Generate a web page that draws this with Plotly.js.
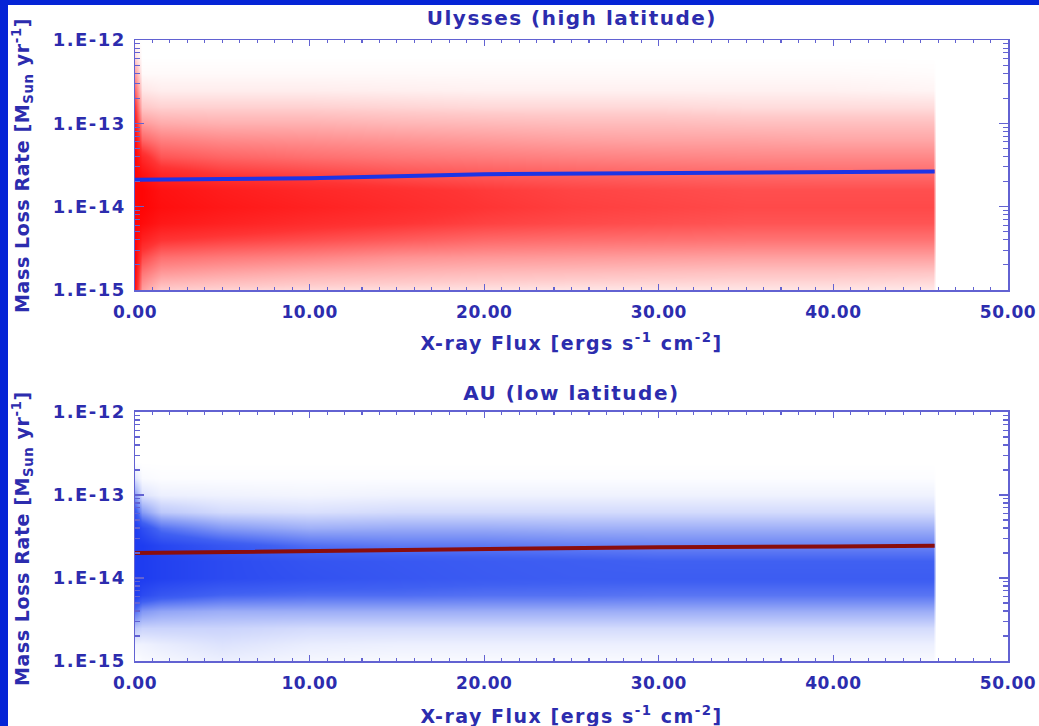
<!DOCTYPE html>
<html>
<head>
<meta charset="utf-8">
<script src="https://cdn.plot.ly/plotly-3.0.1.min.js"></script>
<style>
  html, body { margin: 0; padding: 0; width: 1039px; height: 726px; overflow: hidden; background: #0524d6; }
  #chart { position: absolute; left: 8px; top: 5px; width: 1031px; height: 721px; background: #ffffff; }
  #chart .annotation-text { letter-spacing: 1.5px; }
  #chart .annotation[data-index="4"] .annotation-text,
  #chart .annotation[data-index="5"] .annotation-text { letter-spacing: 0.6px; }
  #chart .ytick text, #chart .y2tick text { letter-spacing: 1.5px; }
  #chart .xtick text, #chart .x2tick text { letter-spacing: 0.5px; }
</style>
</head>
<body>
<div id="chart"></div>
<script>
// ---------- data ----------
// x-ray flux columns of the point-density grid
var fluxColumns = [0, 0.4, 1.5, 5, 10, 15, 20, 25, 30, 35, 40, 45.7, 45.85];
// log10(mass loss rate) rows of the point-density grid
var logRateRows = [-15.0, -14.8, -14.6, -14.4, -14.2, -14.0, -13.8, -13.6, -13.4, -13.2, -13.0, -12.8, -12.6, -12.4, -12.2, -12.0];

// Ulysses (high latitude) – relative point density (0 = empty, 1 = solid)
var ulyssesDensity = [
  [0.90, 0.30, 0.14, 0.12, 0.10, 0.09, 0.08, 0.07, 0.07, 0.07, 0.07, 0.06, 0],
  [0.95, 0.45, 0.32, 0.28, 0.24, 0.22, 0.20, 0.19, 0.18, 0.17, 0.17, 0.16, 0],
  [1.00, 0.62, 0.48, 0.44, 0.40, 0.35, 0.33, 0.32, 0.31, 0.30, 0.30, 0.30, 0],
  [1.00, 0.82, 0.70, 0.65, 0.60, 0.55, 0.50, 0.48, 0.47, 0.46, 0.46, 0.46, 0],
  [1.00, 0.96, 0.88, 0.82, 0.75, 0.70, 0.65, 0.62, 0.60, 0.58, 0.58, 0.58, 0],
  [1.00, 1.00, 0.94, 0.88, 0.82, 0.76, 0.70, 0.66, 0.64, 0.62, 0.62, 0.62, 0],
  [1.00, 1.00, 0.92, 0.85, 0.78, 0.73, 0.68, 0.64, 0.62, 0.60, 0.60, 0.60, 0],
  [1.00, 0.92, 0.78, 0.68, 0.63, 0.58, 0.55, 0.53, 0.51, 0.50, 0.49, 0.49, 0],
  [1.00, 0.78, 0.58, 0.52, 0.48, 0.45, 0.43, 0.41, 0.40, 0.39, 0.39, 0.39, 0],
  [0.95, 0.52, 0.42, 0.38, 0.36, 0.34, 0.32, 0.30, 0.29, 0.29, 0.28, 0.28, 0],
  [0.85, 0.32, 0.26, 0.24, 0.24, 0.22, 0.21, 0.20, 0.20, 0.19, 0.19, 0.19, 0],
  [0.70, 0.16, 0.13, 0.13, 0.13, 0.12, 0.11, 0.11, 0.11, 0.10, 0.10, 0.10, 0],
  [0.50, 0.07, 0.05, 0.05, 0.05, 0.045, 0.04, 0.04, 0.04, 0.04, 0.04, 0.03, 0],
  [0.30, 0.015, 0.015, 0.015, 0.015, 0.015, 0.015, 0.015, 0.015, 0.015, 0.015, 0.01, 0],
  [0.10, 0, 0, 0, 0, 0, 0, 0, 0, 0, 0, 0, 0],
  [0, 0, 0, 0, 0, 0, 0, 0, 0, 0, 0, 0, 0]
];

// AU (low latitude) – relative point density
var auDensity = [
  [0.00, 0.02, 0.03, 0.06, 0.03, 0.02, 0.02, 0.02, 0.02, 0.02, 0.02, 0.02, 0],
  [0.05, 0.05, 0.07, 0.11, 0.07, 0.06, 0.06, 0.06, 0.06, 0.06, 0.06, 0.06, 0],
  [0.22, 0.17, 0.17, 0.17, 0.14, 0.14, 0.14, 0.14, 0.14, 0.14, 0.14, 0.14, 0],
  [0.62, 0.44, 0.38, 0.34, 0.34, 0.34, 0.34, 0.34, 0.34, 0.34, 0.34, 0.34, 0],
  [1.00, 0.88, 0.78, 0.68, 0.64, 0.64, 0.62, 0.62, 0.60, 0.60, 0.60, 0.60, 0],
  [1.00, 1.00, 0.96, 0.88, 0.82, 0.78, 0.75, 0.73, 0.73, 0.73, 0.73, 0.73, 0],
  [1.00, 1.00, 0.96, 0.88, 0.80, 0.77, 0.74, 0.72, 0.70, 0.70, 0.70, 0.70, 0],
  [1.00, 1.00, 0.92, 0.78, 0.63, 0.58, 0.58, 0.55, 0.53, 0.53, 0.53, 0.53, 0],
  [1.00, 0.86, 0.62, 0.43, 0.33, 0.35, 0.35, 0.33, 0.33, 0.33, 0.33, 0.33, 0],
  [0.80, 0.42, 0.22, 0.14, 0.12, 0.14, 0.14, 0.14, 0.14, 0.14, 0.14, 0.14, 0],
  [0.40, 0.11, 0.06, 0.05, 0.04, 0.05, 0.05, 0.05, 0.05, 0.05, 0.05, 0.05, 0],
  [0.10, 0.02, 0.01, 0.01, 0.01, 0.01, 0.01, 0.01, 0.01, 0.01, 0.01, 0.01, 0],
  [0, 0, 0, 0, 0, 0, 0, 0, 0, 0, 0, 0, 0],
  [0, 0, 0, 0, 0, 0, 0, 0, 0, 0, 0, 0, 0],
  [0, 0, 0, 0, 0, 0, 0, 0, 0, 0, 0, 0, 0],
  [0, 0, 0, 0, 0, 0, 0, 0, 0, 0, 0, 0, 0]
];

// trend (fit) lines
var fitFlux = [0, 10, 20, 30, 40, 45.8];
var ulyssesFit = [2.1e-14, 2.2e-14, 2.45e-14, 2.5e-14, 2.55e-14, 2.65e-14];
var auFit = [2.0e-14, 2.1e-14, 2.25e-14, 2.35e-14, 2.4e-14, 2.45e-14];

// tick labels
var xTickVals = [0, 10, 20, 30, 40, 50];
var xTickText = ['0.00', '10.00', '20.00', '30.00', '40.00', '50.00'];
var yTickVals = [1e-15, 1e-14, 1e-13, 1e-12];
var yTickText = ['1.E-15', '1.E-14', '1.E-13', '1.E-12'];

// ---------- styling ----------
var TXT = '#2c2cae';
var AX = '#6262d2';
var FONT = 'DejaVu Sans, Verdana, sans-serif';

var rateRows = logRateRows.map(function (e) { return Math.pow(10, e); });

var yMinor = [];
for (var d = -15; d < -12; d++) {
  for (var m = 2; m <= 9; m++) yMinor.push(m * Math.pow(10, d));
}

function xAxis(anchor) {
  return {
    anchor: anchor, domain: [0, 1], range: [0, 50], type: 'linear',
    showline: true, linecolor: AX, linewidth: 1.5, mirror: 'ticks',
    ticks: 'inside', ticklen: 6, tickwidth: 1.3, tickcolor: AX,
    tickvals: xTickVals, ticktext: xTickText,
    minor: { dtick: 1, tick0: 0, ticks: 'inside', ticklen: 3, tickcolor: AX, tickwidth: 1.1 },
    showgrid: false, zeroline: false,
    tickfont: { family: FONT, size: 17, color: TXT, weight: 'bold' },
    ticklabelstandoff: 6
  };
}
function yAxis(anchor, domain) {
  return {
    anchor: anchor, domain: domain, type: 'log', range: [-15, -12],
    showline: true, linecolor: AX, linewidth: 1.5, mirror: 'ticks',
    ticks: 'inside', ticklen: 9, tickwidth: 1.3, tickcolor: AX,
    tickvals: yTickVals, ticktext: yTickText,
    minor: { tickvals: yMinor, ticks: 'inside', ticklen: 5, tickcolor: AX, tickwidth: 1.1 },
    showgrid: false, zeroline: false,
    tickfont: { family: FONT, size: 18, color: TXT, weight: 'bold' },
    ticklabelstandoff: 4
  };
}

var traces = [
  {
    type: 'heatmap', x: fluxColumns, y: rateRows, z: ulyssesDensity,
    xaxis: 'x', yaxis: 'y', zmin: 0, zmax: 1, zsmooth: 'best', showscale: false, hoverinfo: 'skip',
    colorscale: [[0, '#ffffff'], [0.15, '#ffcaca'], [0.4, '#ff8484'], [0.7, '#ff3434'], [1, '#ff0505']]
  },
  {
    type: 'scatter', mode: 'lines', x: fitFlux, y: ulyssesFit, xaxis: 'x', yaxis: 'y',
    line: { color: '#1e34e6', width: 4 }, hoverinfo: 'skip'
  },
  {
    type: 'heatmap', x: fluxColumns, y: rateRows, z: auDensity,
    xaxis: 'x2', yaxis: 'y2', zmin: 0, zmax: 1, zsmooth: 'best', showscale: false, hoverinfo: 'skip',
    colorscale: [[0, '#ffffff'], [0.15, '#d0d8fc'], [0.4, '#8ca0f6'], [0.7, '#4060f2'], [1, '#1e3cf0']]
  },
  {
    type: 'scatter', mode: 'lines', x: fitFlux, y: auFit, xaxis: 'x2', yaxis: 'y2',
    line: { color: '#8a0d0d', width: 4 }, hoverinfo: 'skip'
  }
];

var titleFont = { family: FONT, size: 20, color: TXT, weight: 'bold' };
var axisTitleFont = { family: FONT, size: 19, color: TXT, weight: 'bold' };

var layout = {
  width: 1031, height: 721,
  margin: { l: 127, r: 31, t: 35, b: 65 },
  paper_bgcolor: '#ffffff', plot_bgcolor: '#ffffff',
  showlegend: false,
  xaxis: xAxis('y'),
  yaxis: yAxis('x', [0.5974, 1]),
  xaxis2: xAxis('y2'),
  yaxis2: yAxis('x2', [0, 0.401]),
  annotations: [
    { text: 'Ulysses (high latitude)', xref: 'paper', yref: 'paper', x: 0.5, y: 1.035,
      xanchor: 'center', yanchor: 'middle', showarrow: false, font: titleFont },
    { text: 'AU (low latitude)', xref: 'paper', yref: 'paper', x: 0.5, y: 0.4316,
      xanchor: 'center', yanchor: 'middle', showarrow: false, font: titleFont },
    { text: 'X-ray Flux [ergs s<sup>-1</sup> cm<sup>-2</sup>]', xref: 'paper', yref: 'paper', x: 0.5, y: 0.5137,
      xanchor: 'center', yanchor: 'middle', showarrow: false, font: axisTitleFont },
    { text: 'X-ray Flux [ergs s<sup>-1</sup> cm<sup>-2</sup>]', xref: 'paper', yref: 'paper', x: 0.5, y: -0.087,
      xanchor: 'center', yanchor: 'middle', showarrow: false, font: axisTitleFont },
    { text: 'Mass Loss Rate [M<sub>Sun</sub> yr<sup>-1</sup>]', xref: 'paper', yref: 'paper', x: -0.1294, y: 0.797,
      xanchor: 'center', yanchor: 'middle', textangle: -90, showarrow: false, font: axisTitleFont },
    { text: 'Mass Loss Rate [M<sub>Sun</sub> yr<sup>-1</sup>]', xref: 'paper', yref: 'paper', x: -0.1294, y: 0.196,
      xanchor: 'center', yanchor: 'middle', textangle: -90, showarrow: false, font: axisTitleFont }
  ]
};

Plotly.newPlot('chart', traces, layout, { staticPlot: true, displayModeBar: false });
</script>
</body>
</html>
